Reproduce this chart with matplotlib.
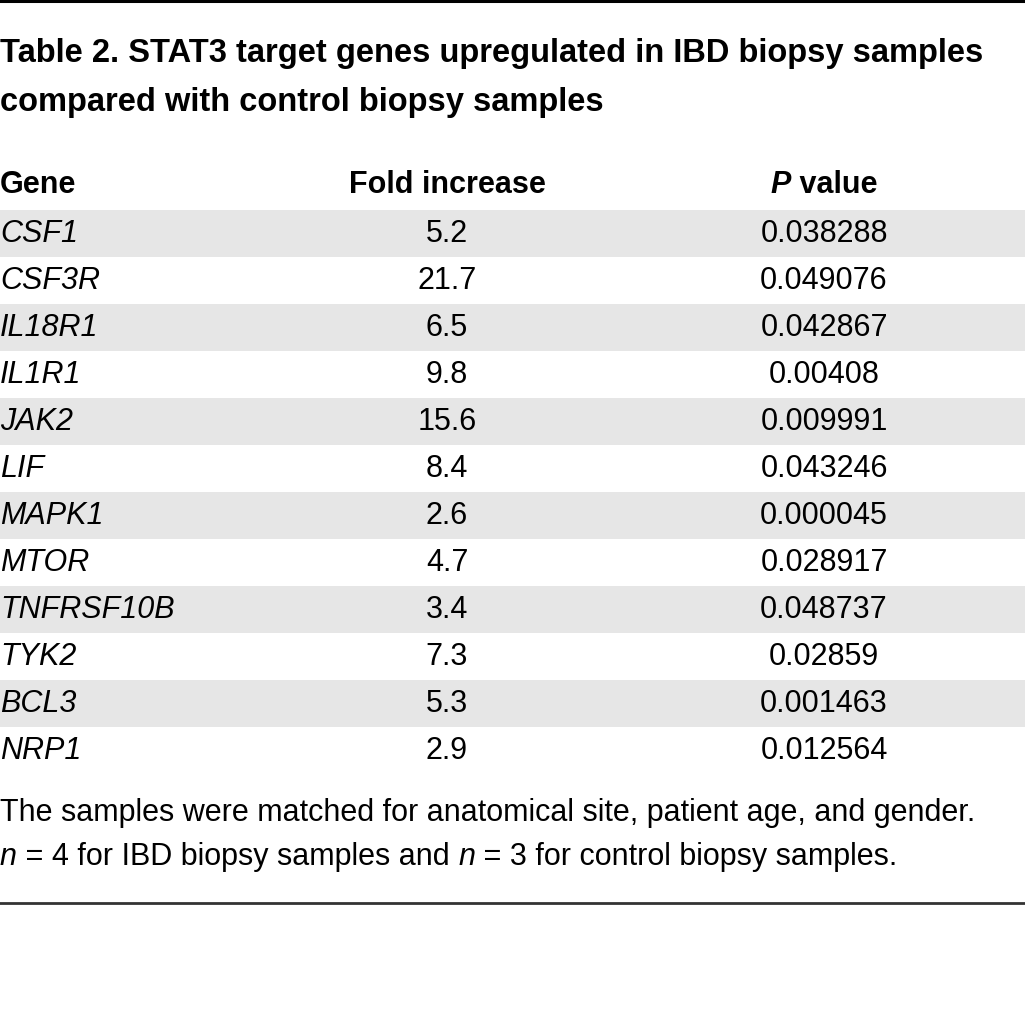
import matplotlib
matplotlib.use('Agg')
import matplotlib.pyplot as plt

# table data
genes = ['CSF1', 'CSF3R', 'IL18R1', 'IL1R1', 'JAK2', 'LIF', 'MAPK1', 'MTOR',
         'TNFRSF10B', 'TYK2', 'BCL3', 'NRP1']
fold = ['5.2', '21.7', '6.5', '9.8', '15.6', '8.4', '2.6', '4.7', '3.4', '7.3', '5.3', '2.9']
pvals = ['0.038288', '0.049076', '0.042867', '0.00408', '0.009991', '0.043246',
         '0.000045', '0.028917', '0.048737', '0.02859', '0.001463', '0.012564']
title_lines = ['Table 2. STAT3 target genes upregulated in IBD biopsy samples',
               'compared with control biopsy samples']
note_1 = 'The samples were matched for anatomical site, patient age, and gender.'
# (text, italic) pieces of the second note line
note_2 = [('n', True), (' = 4 for IBD biopsy samples and ', False),
          ('n', True), (' = 3 for control biopsy samples.', False)]

plt.rcParams['font.family'] = ['Liberation Sans', 'DejaVu Sans']

W, H = 1025, 1013
fig = plt.figure(figsize=(W / 100, H / 100), dpi=100)
ax = fig.add_axes([0, 0, 1, 1])
ax.set_xlim(0, W)
ax.set_ylim(H, 0)
ax.axis('off')
renderer = fig.canvas.get_renderer()

ROW0, ROWH = 210, 47
X_GENE, X_FOLD, X_P = 0, 447, 824
FS = 22


def chain(x, y, parts, center=False, **kw):
    # lay text pieces one after another, measuring each
    texts = []
    for s, it in parts:
        t = ax.text(x, y, s, fontsize=FS, style='italic' if it else 'normal',
                    va='center', ha='left', **kw)
        x += t.get_window_extent(renderer).width  # 1 px == 1 data unit here
        texts.append(t)
    if center:
        x0 = texts[0].get_position()[0]
        shift = (x - x0) / 2
        for t in texts:
            px, py = t.get_position()
            t.set_position((px - shift, py))
    return x


# rules
ax.axhline(1, color='black', lw=2.2)
ax.axhline(903, color='#333333', lw=2)

# title
for i, line in enumerate(title_lines):
    ax.text(0, 53 + 49 * i, line, fontsize=23.5, fontweight='bold', va='center', ha='left')

# header
ax.text(X_GENE, 185, 'Gene', fontsize=FS, fontweight='bold', va='center')
ax.text(X_FOLD, 185, 'Fold increase', fontsize=FS, fontweight='bold', va='center', ha='center')
chain(X_P, 185, [('P', True), (' value', False)], center=True, fontweight='bold')

for i, (g, f, p) in enumerate(zip(genes, fold, pvals)):
    top = ROW0 + i * ROWH
    if i % 2 == 0:
        ax.axhspan(top, top + ROWH, color='#e6e6e6', lw=0)
    yc = top + ROWH / 2
    ax.text(X_GENE, yc, g, fontsize=FS, style='italic', va='center')
    ax.text(X_FOLD, yc, f, fontsize=FS, va='center', ha='center')
    ax.text(X_P, yc, p, fontsize=FS, va='center', ha='center')

# footnote
ax.text(0, 813, note_1, fontsize=FS, va='center')
chain(0, 857, note_2)

fig.savefig('out.png', dpi=100)
